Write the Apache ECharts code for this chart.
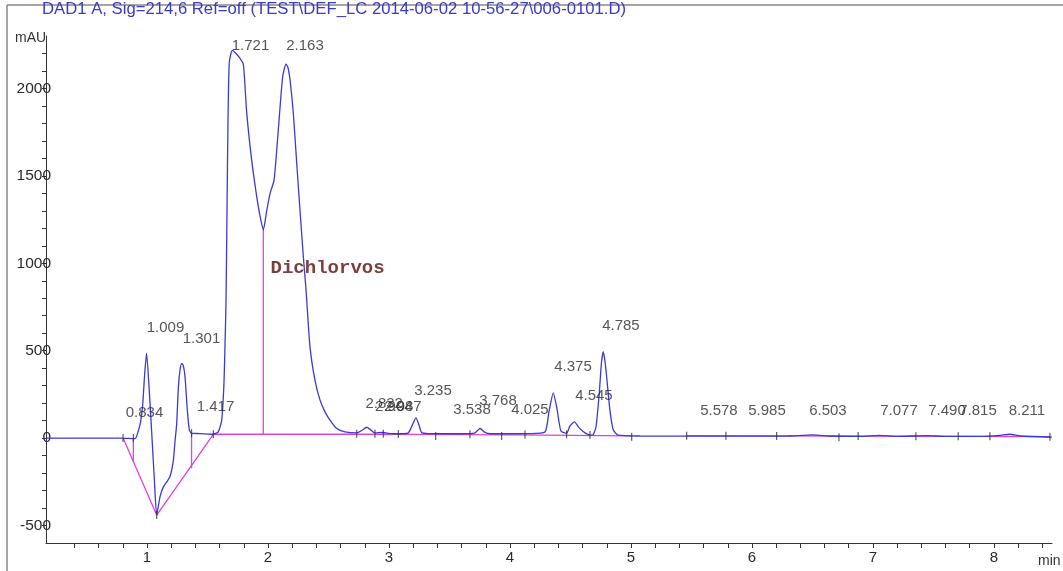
<!DOCTYPE html>
<html>
<head>
<meta charset="utf-8">
<script src="https://cdn.jsdelivr.net/npm/echarts@6/dist/echarts.min.js"></script>
<style>
html,body{margin:0;padding:0;background:#fff;}
#chart{width:1063px;height:571px;}
</style>
</head>
<body>
<div id="chart"></div>
<script>
// ---- data ----
const titleText = 'DAD1 A, Sig=214,6 Ref=off (TEST\\DEF_LC 2014-06-02 10-56-27\\006-0101.D)';
const traceTime = [0.165,0.777,0.901,0.926,0.946,0.963,0.980,0.996,1.016,1.038,1.060,1.080,1.107,1.135,1.163,1.190,1.217,1.231,1.245,1.259,1.273,1.287,1.300,1.314,1.333,1.350,1.369,1.438,1.545,1.589,1.617,1.636,1.647,1.653,1.661,1.669,1.680,1.705,1.736,1.769,1.796,1.824,1.865,1.907,1.934,1.961,1.989,2.017,2.050,2.085,2.121,2.149,2.165,2.182,2.209,2.237,2.264,2.292,2.314,2.347,2.388,2.430,2.471,2.512,2.568,2.636,2.733,2.777,2.816,2.843,2.884,2.950,3.008,3.091,3.157,3.190,3.223,3.248,3.273,3.421,3.669,3.711,3.752,3.793,3.835,4.165,4.289,4.322,4.358,4.388,4.421,4.468,4.496,4.533,4.570,4.620,4.669,4.686,4.711,4.738,4.756,4.771,4.785,4.799,4.826,4.854,4.895,5.074,5.5,6.0,6.3,6.5,6.65,6.9,7.05,7.2,7.45,7.6,7.9,8.05,8.13,8.22,8.48];
const traceSignal = [0,0,-3,36,90,180,360,486,300,40,-230,-440,-336,-279,-250,-220,-130,-20,80,290,390,428,415,351,160,46,27,26,22,36,103,315,600,790,1300,1800,2150,2218,2200,2172,2140,1860,1590,1380,1270,1190,1300,1400,1476,1762,2067,2139,2120,2050,1860,1575,1306,1037,850,522,332,217,150,103,55,36,30,45,62,50,30,32,26,25,28,70,116,75,30,25,26,30,55,33,25,26,35,150,259,170,40,28,70,93,60,30,17,18,65,258,430,494,440,351,160,46,17,12,11,11,12,18,12,10,16,10,14,10,10,16,22,12,6];
const baselineEarly = [[0.802,0],[1.080,-440],[1.548,22]];
const baselineMain = [[1.548,22],[2.7,23],[4.0,19],[5.006,13]];
const baselineLate = [[5.460,14],[8.463,8]];
const dropLines = [[[0.887,-2],[0.887,-136]],[[1.368,28],[1.368,-173]],[[1.961,1190],[1.961,22]]];
const boundaryTicks = [[0.802,0],[0.887,0],[1.080,-440],[1.368,28],[1.548,22],[2.733,25],[2.884,25],[2.953,25],[3.077,24],[3.386,12],[3.669,22],[3.931,12],[4.124,20],[4.468,22],[4.661,18],[5.006,8],[5.460,14],[5.785,13],[6.204,12],[6.719,5],[6.878,12],[7.355,11],[7.705,10],[7.967,10],[8.463,8]];
const peakLabels = ['0.834','1.009','1.301','1.417','1.721','2.163','2.832','2.904','2.987','3.235','3.538','3.768','4.025','4.375','4.545','4.785','5.578','5.985','6.503','7.077','7.490','7.815','8.211'];
const peakLabelT = [0.979,1.153,1.450,1.566,1.855,2.306,2.960,3.040,3.115,3.364,3.686,3.901,4.165,4.521,4.694,4.917,5.727,6.124,6.628,7.215,7.612,7.868,8.273];
const peakLabelV = [143,630,567,178,2245,2245,195,180,180,269,160,212,160,407,240,641,155,155,155,155,155,155,155];
const compoundName = 'Dichlorvos';
const compoundPos = [2.017, 974];
const xTickValues = [0.4,0.6,0.8,1,1.2,1.4,1.6,1.8,2,2.2,2.4,2.6,2.8,3,3.2,3.4,3.6,3.8,4,4.2,4.4,4.6,4.8,5,5.2,5.4,5.6,5.8,6,6.2,6.4,6.6,6.8,7,7.2,7.4,7.6,7.8,8,8.2,8.4];
const xLabelValues = [1,2,3,4,5,6,7,8];
const yTickValues = [-500,-400,-300,-200,-100,0,100,200,300,400,500,600,700,800,900,1000,1100,1200,1300,1400,1500,1600,1700,1800,1900,2000,2100,2200];
const yLabelValues = [-500,0,500,1000,1500,2000];

// ---- chart ----
const chart = echarts.init(document.getElementById('chart'), null, {renderer:'canvas'});
const traceData = traceTime.map((t,i)=>[t, traceSignal[i]]);
const MAG = '#e040e0';
const lineSeries = (data, color, z) => ({type:'line', data, showSymbol:false, symbol:'none', lineStyle:{color, width:1.3}, z, silent:true, animation:false});

const series = [
  Object.assign(lineSeries(traceData, '#3a3ad4', 4), {smooth:0.2}),
  lineSeries(baselineEarly, MAG, 3),
  lineSeries(baselineMain, MAG, 3),
  lineSeries(baselineLate, MAG, 3),
  ...dropLines.map(d => lineSeries(d, MAG, 3)),
  {type:'scatter', data: boundaryTicks, symbol:'rect', symbolSize:[1.2,8], itemStyle:{color:'#333'}, z:5, silent:true, animation:false},
  {type:'scatter', data: peakLabels.map((s,i)=>({name:s, value:[peakLabelT[i], peakLabelV[i]]})), symbol:'circle', symbolSize:1, itemStyle:{color:'rgba(0,0,0,0)'}, z:6, silent:true, animation:false,
    labelLayout:{hideOverlap:false},
    label:{show:true, position:'inside', formatter:p=>p.name, color:'#2a2a2a', fontSize:15, fontFamily:'Liberation Sans, Arial, sans-serif'}},
  {type:'scatter', data:[{name:compoundName, value:compoundPos}], symbol:'circle', symbolSize:1, itemStyle:{color:'rgba(0,0,0,0)'}, z:6, silent:true, animation:false,
    label:{show:true, position:'right', distance:0, formatter:p=>p.name, color:'#5c0c0c', fontSize:19, fontWeight:'bold', fontFamily:'Liberation Mono, DejaVu Sans Mono, monospace'}}
];

chart.setOption({
  animation:false,
  backgroundColor:'#fff',
  grid:{left:46, right:11, top:36, bottom:28},
  xAxis:{type:'value', min:0.165, max:8.48,
    axisLine:{onZero:false, lineStyle:{color:'#333', width:1}},
    axisTick:{show:true, customValues:xTickValues, length:5, lineStyle:{color:'#333'}},
    axisLabel:{customValues:xLabelValues, color:'#2a2a2a', fontSize:15, margin:7, formatter:v=>String(v), fontFamily:'Liberation Sans Narrow, Liberation Sans, sans-serif'},
    splitLine:{show:false}},
  yAxis:{type:'value', min:-600, max:2300,
    axisLine:{show:true, onZero:false, lineStyle:{color:'#333', width:1}},
    axisTick:{show:true, customValues:yTickValues, length:4, lineStyle:{color:'#333'}},
    axisLabel:{customValues:yLabelValues, color:'#2a2a2a', fontSize:15.5, margin:-5, formatter:v=>String(v), fontFamily:'Liberation Sans, Arial, sans-serif'},
    splitLine:{show:false}},
  graphic:[
    {type:'line', shape:{x1:7, y1:5, x2:7, y2:571}, style:{stroke:'#888', lineWidth:1.5}, silent:true},
    {type:'line', shape:{x1:7, y1:5, x2:1063, y2:5}, style:{stroke:'#888', lineWidth:1.5}, silent:true},
    {type:'text', left:42, top:1, style:{text:titleText, fill:'#3a3ac8', font:'16.7px "Liberation Sans", Arial, sans-serif'}, silent:true},
    {type:'text', left:15, top:31, style:{text:'mAU', fill:'#333', font:'14px "Liberation Sans", Arial, sans-serif'}, silent:true},
    {type:'text', left:1038, top:554, style:{text:'min', fill:'#333', font:'14px "Liberation Sans Narrow", "Liberation Sans", sans-serif'}, silent:true}
  ],
  series
});
</script>
</body>
</html>
